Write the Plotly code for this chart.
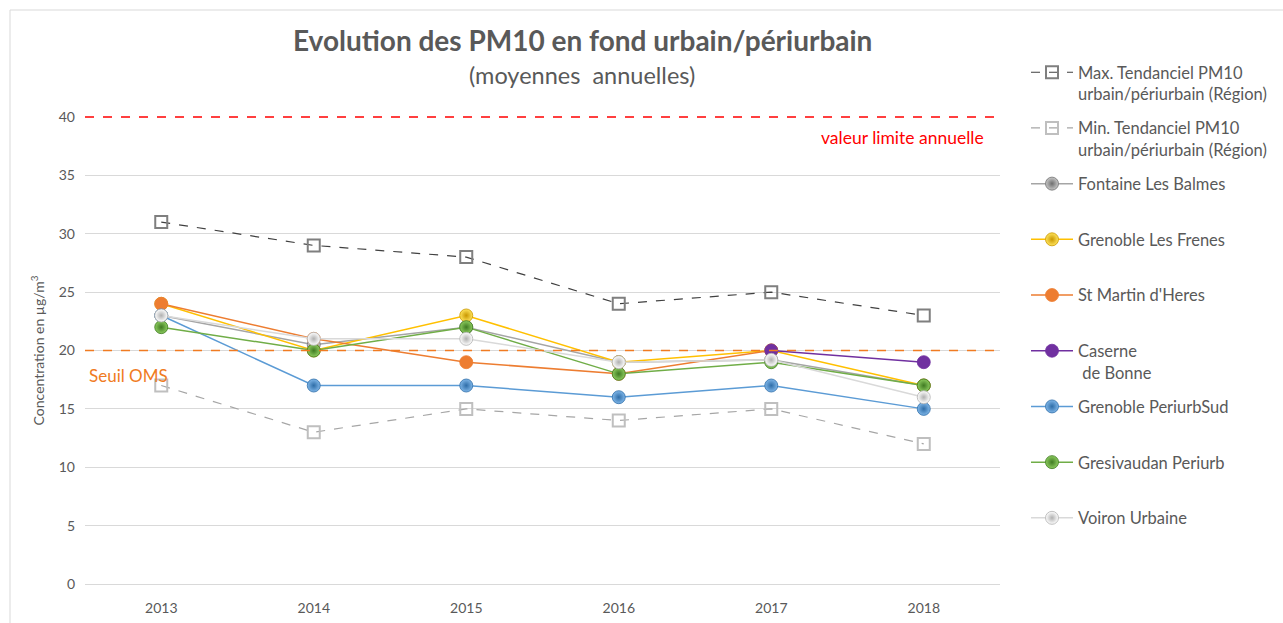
import plotly.graph_objects as go

years = ["2013", "2014", "2015", "2016", "2017", "2018"]

max_region = [31, 29, 28, 24, 25, 23]
min_region = [17, 13, 15, 14, 15, 12]
fontaine = [23, 20.5, 22, 19, 19.2, 17]
frenes = [24, 20, 23, 19, 20, 17]
st_martin = [24, 21, 19, 18, 20, None]
caserne = [None, None, None, None, 20, 19]
periurb_sud = [23, 17, 17, 16, 17, 15]
gresivaudan = [22, 20, 22, 18, 19, 17]
voiron = [23, 21, 21, 19, 19.2, 16]

limit_value = 40
oms_value = 20

W, H = 1283, 623
L, R, T, B = 85, 283, 117, 39
pw, ph = W - L - R, H - T - B

def px_x(p):
    return (p - L) / pw

def px_y(p):
    return (H - B - p) / ph

fig = go.Figure()

def add_station(name, vals, line_color, center, edge, sphere=True):
    marker = dict(size=13, color=center, line=dict(color=edge, width=0.8))
    if sphere:
        marker["gradient"] = dict(type="radial", color=edge)
    fig.add_trace(go.Scatter(
        x=years, y=vals, name=name, mode="lines+markers",
        line=dict(color=line_color, width=1.5),
        marker=marker, legendgroup=name, connectgaps=False,
    ))

fig.add_trace(go.Scatter(
    x=years, y=max_region, name="Max. Tendanciel PM10<br>urbain/périurbain (Région)",
    mode="lines+markers", line=dict(color="#404040", width=1.2, dash="dash"),
    marker=dict(symbol="square-open", size=12, color="#7F7F7F", line=dict(width=2)),
    legendgroup="max",
))
fig.add_trace(go.Scatter(
    x=years, y=min_region, name="Min. Tendanciel PM10<br>urbain/périurbain (Région)",
    mode="lines+markers", line=dict(color="#A6A6A6", width=1.2, dash="dash"),
    marker=dict(symbol="square-open", size=12, color="#BFBFBF", line=dict(width=2)),
    legendgroup="min",
))
add_station("Fontaine Les Balmes<br> ", fontaine, "#A5A5A5", "#C8C8C8", "#6E6E6E")
add_station("Grenoble Les Frenes<br> ", frenes, "#FFC000", "#FFE45C", "#C99700")
add_station("St Martin d'Heres<br> ", st_martin, "#ED7D31", "#ED7D31", "#ED7D31", sphere=False)
add_station("Caserne<br> de Bonne", caserne, "#7030A0", "#7030A0", "#7030A0", sphere=False)
add_station("Grenoble PeriurbSud<br> ", periurb_sud, "#5B9BD5", "#7FB6E8", "#2E6DA8")
add_station("Gresivaudan Periurb<br> ", gresivaudan, "#70AD47", "#8CCB5E", "#3F7A22")
add_station("Voiron Urbaine<br> ", voiron, "#D9D9D9", "#FFFFFF", "#B0B0B0")

shapes = [
    dict(type="line", xref="paper", yref="paper", x0=0, x1=1, y0=1, y1=1,
         line=dict(color="#FF0000", width=1.5, dash="dash"), layer="above"),
    dict(type="line", xref="paper", yref="y", x0=0, x1=1, y0=oms_value, y1=oms_value,
         line=dict(color="#F07B22", width=1.5, dash="dash"), layer="above"),
    dict(type="line", xref="paper", yref="paper", x0=px_x(10), x1=px_x(10), y0=px_y(623), y1=px_y(10),
         line=dict(color="#D9D9D9", width=1)),
    dict(type="line", xref="paper", yref="paper", x0=px_x(10), x1=px_x(1283), y0=px_y(10), y1=px_y(10),
         line=dict(color="#D9D9D9", width=1)),
]

annotations = [
    dict(text="<b>Evolution des PM10 en fond urbain/périurbain</b>", xref="paper", yref="paper",
         x=px_x(582), y=px_y(40), xanchor="center", yanchor="middle", showarrow=False,
         font=dict(size=28, color="#595959", family="Lato")),
    dict(text="(moyennes  annuelles)", xref="paper", yref="paper",
         x=px_x(582), y=px_y(75), xanchor="center", yanchor="middle", showarrow=False,
         font=dict(size=23.5, color="#595959", family="Lato")),
    dict(text="valeur limite annuelle", xref="paper", yref="paper",
         x=px_x(986), y=px_y(137), xanchor="right", yanchor="middle", showarrow=False,
         font=dict(size=17.5, color="#FF0000", family="Lato")),
    dict(text="Seuil OMS", xref="paper", yref="paper",
         x=px_x(87), y=px_y(375), xanchor="left", yanchor="middle", showarrow=False,
         font=dict(size=17, color="#F07B22", family="Lato")),
]

fig.update_layout(
    width=W, height=H,
    margin=dict(l=L, r=R, t=T, b=B, autoexpand=False),
    paper_bgcolor="white", plot_bgcolor="white",
    font=dict(family="Lato", color="#595959", size=13),
    shapes=shapes, annotations=annotations,
    legend=dict(x=px_x(1026), y=px_y(55), xanchor="left", yanchor="top",
                font=dict(size=16.5, color="#595959", family="Lato"),
                valign="top", tracegroupgap=9.8, itemwidth=42, maxheight=620,
                bgcolor="rgba(0,0,0,0)", borderwidth=0),
    xaxis=dict(type="category", range=[-0.5, 5.5], showgrid=False, showline=False,
               automargin=False,
               ticks="", tickfont=dict(size=14, color="#595959"), ticklabelstandoff=14),
    yaxis=dict(range=[0, 40], dtick=5, showgrid=True, gridcolor="#D9D9D9", gridwidth=1,
               zeroline=True, zerolinecolor="#D9D9D9", zerolinewidth=1, showline=False,
               automargin=False,
               ticks="", tickfont=dict(size=14, color="#595959"), ticklabelstandoff=9,
               title=dict(text="Concentration en µg/m<sup>3</sup>", standoff=10,
                          font=dict(size=14, color="#595959"))),
)

fig.write_html("out.html", config={"displayModeBar": False},
               post_script="document.body.style.margin='0px';document.body.style.overflow='hidden';")
